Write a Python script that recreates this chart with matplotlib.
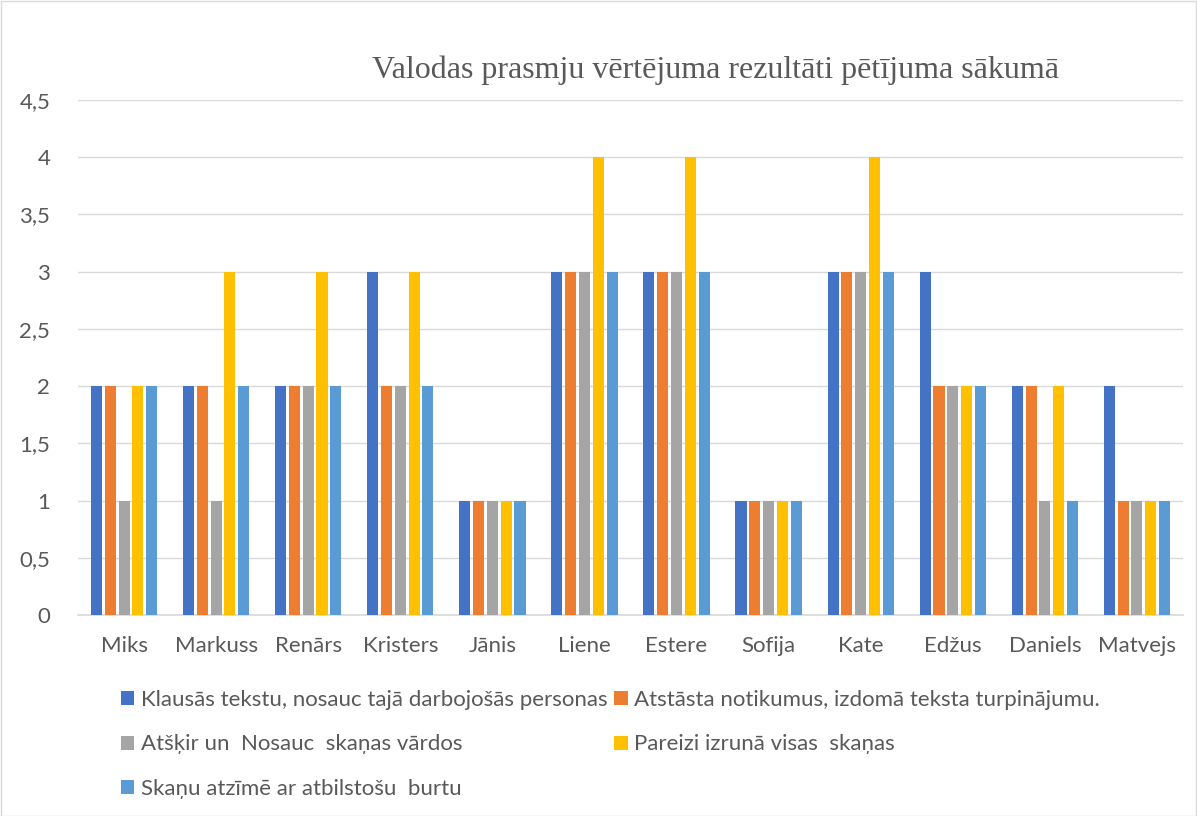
import matplotlib
matplotlib.use("Agg")
import matplotlib.pyplot as plt
from matplotlib.patches import Patch, Rectangle
import numpy as np

names = ["Miks", "Markuss", "Renārs", "Kristers", "Jānis", "Liene", "Estere",
         "Sofija", "Kate", "Edžus", "Daniels", "Matvejs"]
series_labels = [
    "Klausās tekstu, nosauc tajā darbojošās personas",
    "Atstāsta notikumus, izdomā teksta turpinājumu.",
    "Atšķir un  Nosauc  skaņas vārdos",
    "Pareizi izrunā visas  skaņas",
    "Skaņu atzīmē ar atbilstošu  burtu",
]
s1 = [2, 2, 2, 3, 1, 3, 3, 1, 3, 3, 2, 2]
s2 = [2, 2, 2, 2, 1, 3, 3, 1, 3, 2, 2, 1]
s3 = [1, 1, 2, 2, 1, 3, 3, 1, 3, 2, 1, 1]
s4 = [2, 3, 3, 3, 1, 4, 4, 1, 4, 2, 2, 1]
s5 = [2, 2, 2, 2, 1, 3, 3, 1, 3, 2, 1, 1]
series = [s1, s2, s3, s4, s5]
colors = ["#4472C4", "#ED7D31", "#A5A5A5", "#FFC000", "#5B9BD5"]
yticks = [0, 0.5, 1, 1.5, 2, 2.5, 3, 3.5, 4, 4.5]
ytick_labels = ["0", "0,5", "1", "1,5", "2", "2,5", "3", "3,5", "4", "4,5"]

W, H = 1197, 816
fig = plt.figure(figsize=(W / 100, H / 100), dpi=100)
fig.add_artist(Rectangle((0.5 / W, 0.5 / H), 1 - 1.5 / W, 1 - 1.5 / H, transform=fig.transFigure,
                         fill=False, edgecolor="#D9D9D9", linewidth=1))

ax = fig.add_axes([78 / W, 1 - 615 / H, (1183 - 78) / W, (615 - 100) / H])
x = np.arange(len(names))
step = 0.15
bw = 0.12
for i, (vals, c) in enumerate(zip(series, colors)):
    ax.bar(x + (i - 2) * step, vals, width=bw, color=c, zorder=3, label=series_labels[i])

ax.set_xlim(-0.5, len(names) - 0.5)
ax.set_ylim(0, 4.5)
ax.set_yticks(yticks)
ax.set_yticklabels(ytick_labels)
ax.set_xticks(x)
ax.set_xticklabels(names)
txtc = "#595959"
ax.tick_params(axis="both", length=0, labelsize=16, colors=txtc, labelfontfamily="Lato")
ax.tick_params(axis="x", pad=15)
ax.tick_params(axis="y", pad=20)
ax.grid(axis="y", color="#D9D9D9", linewidth=1, zorder=0)
for s in ["top", "right", "left"]:
    ax.spines[s].set_visible(False)
ax.spines["bottom"].set_color("#D9D9D9")
ax.spines["bottom"].set_linewidth(1.2)

fig.text(715 / W, 1 - 70 / H, "Valodas prasmju vērtējuma rezultāti pētījuma sākumā",
         ha="center", va="center", fontsize=23, color=txtc, family="Liberation Serif")

order = [0, 2, 4, 1, 3]
handles = [Patch(facecolor=colors[i]) for i in order]
labels = [series_labels[i] for i in order]
leg = fig.legend(handles, labels, loc="upper left", bbox_to_anchor=(101 / W, 1 - 670 / H),
                 ncol=2, frameon=False, handlelength=0.6, handleheight=0.6, handletextpad=0.3,
                 columnspacing=0.3, labelspacing=1.1,
                 prop={"family": "Lato", "size": 16})
for t in leg.get_texts():
    t.set_color(txtc)

fig.savefig("out.png", dpi=100)
